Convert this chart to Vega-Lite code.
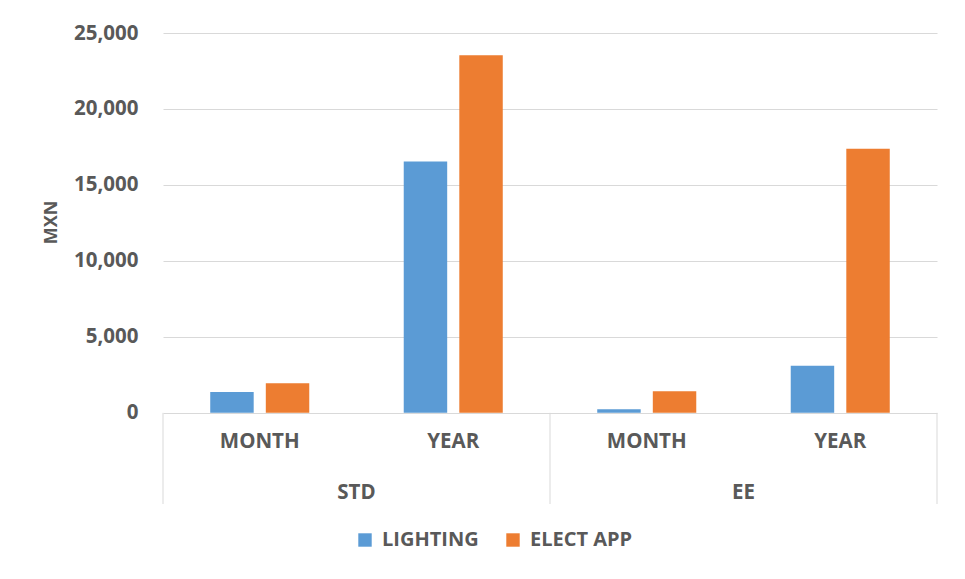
{
  "$schema": "https://vega.github.io/schema/vega-lite/v6.json",
  "autosize": "none",
  "width": 774,
  "height": 471,
  "padding": {"left": 163, "top": 33, "right": 28, "bottom": 75},
  "background": "white",
  "config": {
    "view": {"stroke": null},
    "font": "Open Sans",
    "text": {"font": "Open Sans"}
  },
  "datasets": {
    "bars": [
      {"category": "STD-MONTH", "group": "STD", "period": "MONTH", "series": "LIGHTING", "value": 1370},
      {"category": "STD-MONTH", "group": "STD", "period": "MONTH", "series": "ELECT APP", "value": 1950},
      {"category": "STD-YEAR", "group": "STD", "period": "YEAR", "series": "LIGHTING", "value": 16550},
      {"category": "STD-YEAR", "group": "STD", "period": "YEAR", "series": "ELECT APP", "value": 23530},
      {"category": "EE-MONTH", "group": "EE", "period": "MONTH", "series": "LIGHTING", "value": 230},
      {"category": "EE-MONTH", "group": "EE", "period": "MONTH", "series": "ELECT APP", "value": 1420},
      {"category": "EE-YEAR", "group": "EE", "period": "YEAR", "series": "LIGHTING", "value": 3100},
      {"category": "EE-YEAR", "group": "EE", "period": "YEAR", "series": "ELECT APP", "value": 17380}
    ],
    "periods": [
      {"category": "STD-MONTH", "label": "MONTH"},
      {"category": "STD-YEAR", "label": "YEAR"},
      {"category": "EE-MONTH", "label": "MONTH"},
      {"category": "EE-YEAR", "label": "YEAR"}
    ],
    "groups": [
      {"category": "STD-MONTH", "label": "STD"},
      {"category": "EE-MONTH", "label": "EE"}
    ],
    "startSeps": [
      {"category": "STD-MONTH"},
      {"category": "EE-MONTH"}
    ],
    "endSeps": [
      {"category": "EE-YEAR"}
    ]
  },
  "encoding": {
    "x": {
      "field": "category",
      "type": "nominal",
      "sort": null,
      "scale": {"domain": ["STD-MONTH", "STD-YEAR", "EE-MONTH", "EE-YEAR"], "paddingInner": 0, "paddingOuter": 0},
      "axis": null
    }
  },
  "layer": [
    {
      "data": {"name": "bars"},
      "mark": {"type": "bar"},
      "encoding": {
        "xOffset": {
          "field": "series",
          "type": "nominal",
          "sort": ["LIGHTING", "ELECT APP"],
          "scale": {"paddingInner": 0.218, "paddingOuter": 0.85}
        },
        "y": {
          "field": "value",
          "type": "quantitative",
          "scale": {"domain": [-6000, 25000], "nice": false, "zero": false},
          "axis": {
            "title": "MXN",
            "values": [0, 5000, 10000, 15000, 20000, 25000],
            "format": ",d",
            "domain": false,
            "ticks": false,
            "grid": true,
            "gridColor": "#d9d9d9",
            "gridWidth": 1,
            "labelFont": "Open Sans",
            "labelFontSize": 20.5,
            "labelFontWeight": "bold",
            "labelColor": "#595959",
            "labelPadding": 25,
            "titleFont": "Open Sans",
            "titleFontSize": 18,
            "titleFontWeight": "bold",
            "titleColor": "#595959",
            "titleX": -112,
            "titleY": 189,
            "titleAngle": -90,
            "titleBaseline": "middle",
            "titleAlign": "center"
          }
        },
        "color": {
          "field": "series",
          "type": "nominal",
          "sort": ["LIGHTING", "ELECT APP"],
          "scale": {"domain": ["LIGHTING", "ELECT APP"], "range": ["#5B9BD5", "#ED7D31"]},
          "legend": {
            "title": null,
            "orient": "none",
            "direction": "horizontal",
            "legendX": 192,
            "legendY": 497,
            "symbolType": "square",
            "symbolSize": 180,
            "symbolStrokeWidth": 0,
            "labelFont": "Open Sans",
            "labelFontSize": 20,
            "labelFontWeight": "bold",
            "labelColor": "#595959",
            "labelOffset": 7,
            "columnPadding": 24
          }
        }
      }
    },
    {
      "data": {"name": "startSeps"},
      "mark": {"type": "rule", "color": "#d9d9d9", "strokeWidth": 1},
      "encoding": {
        "x": {"field": "category", "type": "nominal", "bandPosition": 0},
        "y": {"datum": 0, "type": "quantitative"},
        "y2": {"datum": -6000}
      }
    },
    {
      "data": {"name": "endSeps"},
      "mark": {"type": "rule", "color": "#d9d9d9", "strokeWidth": 1},
      "encoding": {
        "x": {"field": "category", "type": "nominal", "bandPosition": 1},
        "y": {"datum": 0, "type": "quantitative"},
        "y2": {"datum": -6000}
      }
    },
    {
      "data": {"name": "periods"},
      "mark": {"type": "text", "font": "Open Sans", "fontSize": 20.5, "fontWeight": "bold", "color": "#595959", "baseline": "middle", "align": "center"},
      "encoding": {
        "x": {"field": "category", "type": "nominal", "bandPosition": 0.5},
        "y": {"datum": -1900, "type": "quantitative"},
        "text": {"field": "label", "type": "nominal"}
      }
    },
    {
      "data": {"name": "groups"},
      "mark": {"type": "text", "font": "Open Sans", "fontSize": 20.5, "fontWeight": "bold", "color": "#595959", "baseline": "middle", "align": "center"},
      "encoding": {
        "x": {"field": "category", "type": "nominal", "bandPosition": 1},
        "y": {"datum": -5300, "type": "quantitative"},
        "text": {"field": "label", "type": "nominal"}
      }
    }
  ]
}
